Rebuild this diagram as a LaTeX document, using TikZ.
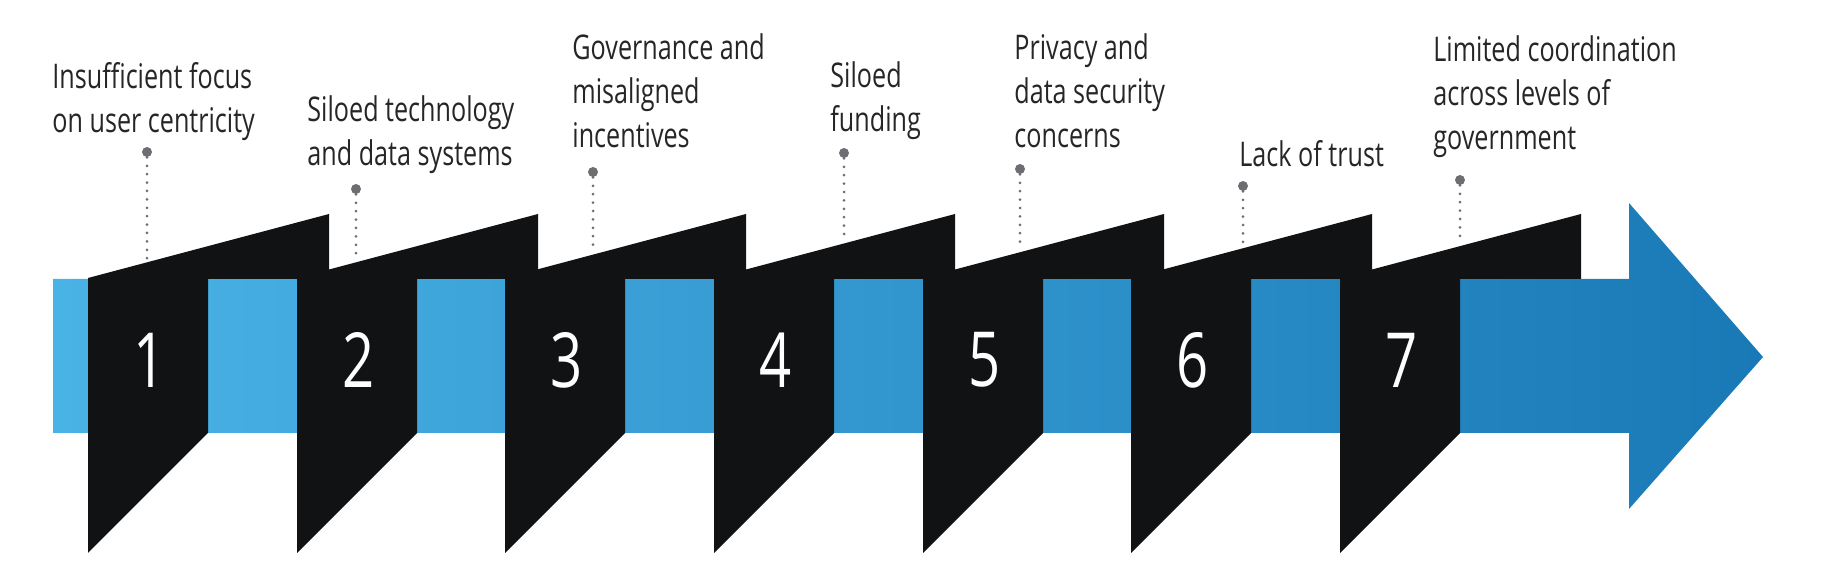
\documentclass[tikz,border=0pt]{standalone}
\usepackage{fontspec}
\usepackage{xcolor}
\usepackage{tikz}
\usetikzlibrary{calc}

\newfontfamily\causefont[FakeStretch=0.74]{Open Sans}
\definecolor{panelblack}{HTML}{111214}
\definecolor{pingray}{HTML}{6D6E71}
\definecolor{causegray}{HTML}{262626}
\definecolor{bandleft}{HTML}{4AB3E6}
\definecolor{bandmid}{HTML}{2996D0}
\definecolor{bandright}{HTML}{1979B6}

\begin{document}
\begin{tikzpicture}[
    % Define styles for the panels, texts and pins
        x=0.5pt, y=-0.5pt,
        panel/.style={fill=panelblack},
        num/.style={text=white, inner sep=0pt, font=\causefont\fontsize{38}{38}\selectfont},
        causetext/.style={anchor=base west, align=left, inner sep=0pt, text=causegray, font=\causefont\fontsize{17}{22}\selectfont},
        pinhead/.style={circle, fill=pingray, inner sep=0pt, minimum size=5pt},
        pinline/.style={draw=pingray, line width=1.5pt, line cap=round, dash pattern=on 0pt off 4.2pt}
    ]
        \useasboundingbox (0,0) rectangle (1833,571);

        % The band and its arrow head
        \shade[left color=bandleft, middle color=bandmid, right color=bandright]
            (53,279) -- (1629,279) -- (1629,203) -- (1763,357) -- (1629,509) -- (1629,433) -- (53,433) -- cycle;

        % The folded panels
        \fill[panel] (88,553) -- ++(0,-275) -- ++(241,-64) -- ++(0,65) -- ++(-121,0) -- ++(0,154) -- cycle;
        \fill[panel] (297,553) -- ++(0,-275) -- ++(241,-64) -- ++(0,65) -- ++(-121,0) -- ++(0,154) -- cycle;
        \fill[panel] (505,553) -- ++(0,-275) -- ++(241,-64) -- ++(0,65) -- ++(-121,0) -- ++(0,154) -- cycle;
        \fill[panel] (714,553) -- ++(0,-275) -- ++(241,-64) -- ++(0,65) -- ++(-121,0) -- ++(0,154) -- cycle;
        \fill[panel] (923,553) -- ++(0,-275) -- ++(241,-64) -- ++(0,65) -- ++(-121,0) -- ++(0,154) -- cycle;
        \fill[panel] (1131,553) -- ++(0,-275) -- ++(241,-64) -- ++(0,65) -- ++(-121,0) -- ++(0,154) -- cycle;
        \fill[panel] (1340,553) -- ++(0,-275) -- ++(241,-64) -- ++(0,65) -- ++(-121,0) -- ++(0,154) -- cycle;

        % The numbers
        \node[num] (num1) at (150,360) {1};
        \node[num] (num2) at (359,360) {2};
        \node[num] (num3) at (567,360) {3};
        \node[num] (num4) at (776,360) {4};
        \node[num] (num5) at (985,360) {5};
        \node[num] (num6) at (1193,360) {6};
        \node[num] (num7) at (1402,360) {7};

        % The causes (anchored at the baseline of their last line)
        \node[causetext] (cause1) at (52,133) {Insufficient focus\\on user centricity};
        \node[causetext] (cause2) at (307,166) {Siloed technology\\and data systems};
        \node[causetext] (cause3) at (572,148) {Governance and\\misaligned\\incentives};
        \node[causetext] (cause4) at (830,132) {Siloed\\funding};
        \node[causetext] (cause5) at (1014,148) {Privacy and\\data security\\concerns};
        \node[causetext] (cause6) at (1239,167) {Lack of trust};
        \node[causetext] (cause7) at (1433,150) {Limited coordination\\across levels of\\government};

        % The pins and where they meet the panels
        \node[pinhead] (pin1) at (147,152) {};
        \node[pinhead] (pin2) at (356,189) {};
        \node[pinhead] (pin3) at (593,172) {};
        \node[pinhead] (pin4) at (844,153) {};
        \node[pinhead] (pin5) at (1020,169) {};
        \node[pinhead] (pin6) at (1243,186) {};
        \node[pinhead] (pin7) at (1460,180) {};

        \coordinate (edge1) at (147,259);
        \coordinate (edge2) at (356,259);
        \coordinate (edge3) at (593,252);
        \coordinate (edge4) at (844,241);
        \coordinate (edge5) at (1020,249);
        \coordinate (edge6) at (1243,245);
        \coordinate (edge7) at (1460,243);

        \draw[pinline] (pin1) -- (edge1);
        \draw[pinline] (pin2) -- (edge2);
        \draw[pinline] (pin3) -- (edge3);
        \draw[pinline] (pin4) -- (edge4);
        \draw[pinline] (pin5) -- (edge5);
        \draw[pinline] (pin6) -- (edge6);
        \draw[pinline] (pin7) -- (edge7);
    \end{tikzpicture}
\end{document}
